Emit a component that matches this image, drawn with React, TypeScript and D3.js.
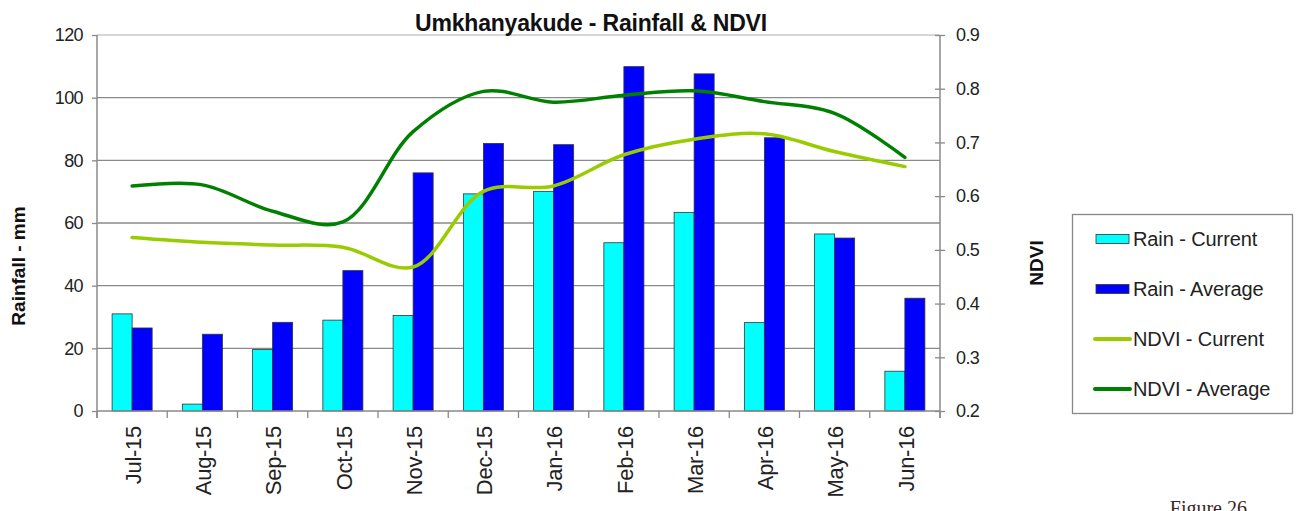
import * as d3 from 'd3';
import { useEffect, useRef } from 'react';

const months = ['Jul-15', 'Aug-15', 'Sep-15', 'Oct-15', 'Nov-15', 'Dec-15', 'Jan-16', 'Feb-16', 'Mar-16', 'Apr-16', 'May-16', 'Jun-16'];
const rainCurrent = [31, 2.2, 19.6, 29, 30.5, 69.3, 70.1, 53.7, 63.4, 28.2, 56.5, 12.7];
const rainAverage = [26.5, 24.5, 28.3, 44.8, 76, 85.4, 85, 109.9, 107.6, 87.2, 55.2, 36];
const ndviCurrent = [0.523, 0.514, 0.509, 0.505, 0.468, 0.609, 0.619, 0.677, 0.706, 0.716, 0.683, 0.655];
const ndviAverage = [0.619, 0.621, 0.572, 0.552, 0.72, 0.795, 0.775, 0.788, 0.796, 0.776, 0.754, 0.672];
const rainTicks = [0, 20, 40, 60, 80, 100, 120];
const ndviTicks = [0.2, 0.3, 0.4, 0.5, 0.6, 0.7, 0.8, 0.9];

const legendItems = [
    { label: 'Rain - Current', color: '#00ffff', type: 'bar' },
    { label: 'Rain - Average', color: '#0000ff', type: 'bar' },
    { label: 'NDVI - Current', color: '#99cc00', type: 'line' },
    { label: 'NDVI - Average', color: '#008000', type: 'line' },
];

const App = () => {
    const svgRef = useRef<SVGSVGElement>(null);

    useEffect(() => {
        const width = 1297;
        const height = 511;
        const font = 'Arial, "Liberation Sans", sans-serif';

        const svg = d3.select(svgRef.current);
        svg.selectAll('*').remove();
        svg.attr('width', width).attr('height', height);

        const left = 97;
        const right = 940;
        const top = 35;
        const bottom = 411;

        const x0 = d3.scaleBand().domain(months).range([left, right]).paddingInner(0.43).paddingOuter(0.215);
        const x1 = d3.scaleBand().domain(['cur', 'avg']).range([0, x0.bandwidth()]);
        const yRain = d3.scaleLinear().domain([0, 120]).range([bottom, top]);
        const yNdvi = d3.scaleLinear().domain([0.2, 0.9]).range([bottom, top]);
        const cx = (m) => (x0(m) as number) + x0.bandwidth() / 2;

        // grid
        svg.append('g')
            .selectAll('line')
            .data(rainTicks.filter((t) => t > 0))
            .enter()
            .append('line')
            .attr('x1', left)
            .attr('x2', right)
            .attr('y1', (d) => yRain(d))
            .attr('y2', (d) => yRain(d))
            .attr('stroke', (d) => (d === 120 ? '#c8c8c8' : '#8a8a8a'))
            .attr('stroke-width', 1.3);

        // bars
        const groups = svg
            .append('g')
            .selectAll('g')
            .data(months)
            .enter()
            .append('g')
            .attr('transform', (d) => `translate(${x0(d)},0)`);
        groups
            .selectAll('rect')
            .data((d, i) => [
                { key: 'cur', v: rainCurrent[i], c: '#00ffff' },
                { key: 'avg', v: rainAverage[i], c: '#0000ff' },
            ])
            .enter()
            .append('rect')
            .attr('x', (d) => x1(d.key) as number)
            .attr('width', x1.bandwidth())
            .attr('y', (d) => yRain(d.v))
            .attr('height', (d) => bottom - yRain(d.v))
            .attr('fill', (d) => d.c)
            .attr('stroke', '#333')
            .attr('stroke-width', 0.8);

        // axes
        const axisColor = '#8a8a8a';
        const leftAxis = svg.append('g').attr('transform', `translate(${left},0)`).call(d3.axisLeft(yRain).tickValues(rainTicks).tickSize(5).tickPadding(9));
        const rightAxis = svg.append('g').attr('transform', `translate(${right},0)`).call(d3.axisRight(yNdvi).tickValues(ndviTicks).tickSize(5).tickPadding(11).tickFormat(d3.format('.1f')));
        rightAxis.selectAll('.tick line').attr('x1', -5);
        [leftAxis, rightAxis].forEach((a) => {
            a.select('.domain').remove();
            a.selectAll('.tick line').attr('stroke', axisColor).attr('stroke-width', 1.3);
            a.selectAll('text').attr('font-family', font).attr('font-size', 18).attr('letter-spacing', -0.6).attr('fill', '#222');
        });
        svg.append('line').attr('x1', left).attr('x2', left).attr('y1', top).attr('y2', bottom + 7).attr('stroke', axisColor).attr('stroke-width', 1.5);
        svg.append('line').attr('x1', right).attr('x2', right).attr('y1', top).attr('y2', bottom + 7).attr('stroke', axisColor).attr('stroke-width', 1.5);
        svg.append('line').attr('x1', left).attr('x2', right).attr('y1', bottom).attr('y2', bottom).attr('stroke', axisColor).attr('stroke-width', 1.5);

        // category ticks between groups
        svg.append('g')
            .selectAll('line')
            .data(d3.range(months.length + 1))
            .enter()
            .append('line')
            .attr('x1', (i) => left + i * x0.step())
            .attr('x2', (i) => left + i * x0.step())
            .attr('y1', bottom)
            .attr('y2', bottom + 7)
            .attr('stroke', axisColor)
            .attr('stroke-width', 1.3);

        // month labels
        svg.append('g')
            .selectAll('text')
            .data(months)
            .enter()
            .append('text')
            .attr('transform', (d) => `translate(${cx(d) + 1},${bottom + 15}) rotate(-90)`)
            .attr('text-anchor', 'end')
            .attr('dy', '0.35em')
            .attr('font-family', font)
            .attr('font-size', 22)
            .attr('letter-spacing', -0.3)
            .attr('fill', '#222')
            .text((d) => d);

        // ndvi lines
        const line = d3
            .line<number>()
            .x((d, i) => cx(months[i]))
            .y((d) => yNdvi(d))
            .curve(d3.curveCatmullRom);
        [
            { v: ndviCurrent, c: '#99cc00' },
            { v: ndviAverage, c: '#008000' },
        ].forEach((s) => {
            svg.append('path').attr('d', line(s.v)).attr('fill', 'none').attr('stroke', s.c).attr('stroke-width', 3.5).attr('stroke-linecap', 'round');
        });

        // titles
        svg.append('text')
            .attr('x', 591)
            .attr('y', 31)
            .attr('text-anchor', 'middle')
            .attr('font-family', font)
            .attr('font-weight', 'bold')
            .attr('font-size', 23)
            .attr('letter-spacing', -0.2)
            .attr('fill', '#111')
            .text('Umkhanyakude - Rainfall & NDVI');
        svg.append('text')
            .attr('transform', 'translate(25,266) rotate(-90)')
            .attr('text-anchor', 'middle')
            .attr('font-family', font)
            .attr('font-weight', 'bold')
            .attr('font-size', 19)
            .attr('fill', '#111')
            .text('Rainfall - mm');
        svg.append('text')
            .attr('transform', 'translate(1043,263) rotate(-90)')
            .attr('text-anchor', 'middle')
            .attr('font-family', font)
            .attr('font-weight', 'bold')
            .attr('font-size', 19)
            .attr('fill', '#111')
            .text('NDVI');

        // legend
        const lg = svg.append('g');
        lg.append('rect').attr('x', 1072.5).attr('y', 214.5).attr('width', 220).attr('height', 199).attr('fill', 'white').attr('stroke', '#888').attr('stroke-width', 1.3);
        const ly = d3.scalePoint().domain(legendItems.map((d) => d.label)).range([239, 389]);
        legendItems.forEach((it) => {
            const y = ly(it.label) as number;
            if (it.type === 'bar') {
                lg.append('rect').attr('x', 1096).attr('y', y - 4.5).attr('width', 33).attr('height', 9).attr('fill', it.color).attr('stroke', '#333').attr('stroke-width', 0.8);
            } else {
                lg.append('line').attr('x1', 1095).attr('x2', 1130).attr('y1', y).attr('y2', y).attr('stroke', it.color).attr('stroke-width', 4).attr('stroke-linecap', 'round');
            }
            lg.append('text')
                .attr('x', 1133)
                .attr('y', y)
                .attr('dy', '0.35em')
                .attr('font-family', font)
                .attr('font-size', 20)
                .attr('letter-spacing', -0.1)
                .attr('fill', '#222')
                .text(it.label);
        });

        svg.append('text')
            .attr('x', 1247)
            .attr('y', 515)
            .attr('text-anchor', 'end')
            .attr('font-family', '"Liberation Serif", "Times New Roman", serif')
            .attr('font-size', 20)
            .attr('fill', '#3a2626')
            .text('Figure 26');
    }, []);

    return <svg ref={svgRef} style={{ position: 'absolute', left: 0, top: 0, background: 'white' }} />;
};

export default App;
